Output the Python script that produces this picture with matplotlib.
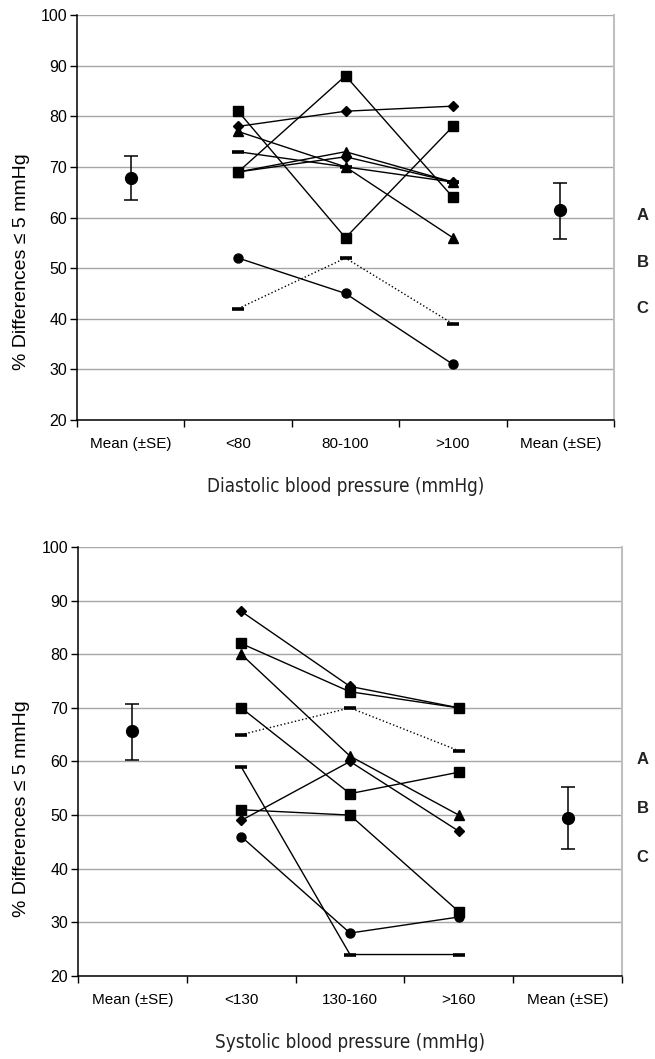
import numpy as np
import matplotlib.pyplot as plt
from matplotlib.transforms import blended_transform_factory

# x categories for the two panels
dia_labels = ['Mean (±SE)', '<80', '80-100', '>100', 'Mean (±SE)']
sys_labels = ['Mean (±SE)', '<130', '130-160', '>160', 'Mean (±SE)']

# diastolic panel: one row per series, values at the three pressure bands
dia_markers = ['_', '^', 'D', 's', 's', 'D', '^', 'o', '_']
dia_styles = ['-', '-', '-', '-', '-', '-', '-', '-', ':']
dia_values = [
    [73, 70, 67],
    [69, 73, 67],
    [69, 72, 67],
    [81, 56, 78],
    [69, 88, 64],
    [78, 81, 82],
    [77, 70, 56],
    [52, 45, 31],
    [42, 52, 39],
]
dia_mean = [67.8, 61.5]
dia_low = [63.4, 55.7]
dia_high = [72.2, 66.8]

# systolic panel
sys_markers = ['D', 's', '^', 's', '_', '_', 's', 'D', 'o']
sys_styles = ['-', '-', '-', '-', ':', '-', '-', '-', '-']
sys_values = [
    [88, 74, 70],
    [82, 73, 70],
    [80, 61, 50],
    [70, 54, 58],
    [65, 70, 62],
    [59, 24, 24],
    [51, 50, 32],
    [49, 60, 47],
    [46, 28, 31],
]
sys_mean = [65.7, 49.4]
sys_low = [60.2, 43.6]
sys_high = [70.8, 55.2]

side_letters = ['A', 'B', 'C']
side_levels = [60.4, 51.2, 42.1]

yticks = np.arange(20, 101, 10)
tick_font = 'Liberation Sans'


def draw_panel(fig, ax, labels, markers, styles, values, mean, low, high, xlabel):
    band_x = [1, 2, 3]
    for m, ls, vals in zip(markers, styles, values):
        if m == '_':
            ax.plot(band_x, vals, color='black', lw=1.0, ls=ls, marker=m,
                    markersize=8, markeredgewidth=2.6, zorder=3)
        else:
            ax.plot(band_x, vals, color='black', lw=1.0, ls=ls, marker=m,
                    markersize=6.5 if m != 'D' else 5.5, zorder=3)

    mean = np.array(mean)
    yerr = [mean - np.array(low), np.array(high) - mean]
    ax.errorbar([0, 4], mean, yerr=yerr, fmt='o', color='black', ms=8.5,
                capsize=5, elinewidth=1.1, capthick=1.1, zorder=4)

    ax.set_xlim(-0.5, 4.5)
    ax.set_ylim(20, 100)
    ax.set_yticks(yticks)
    ax.set_xticks(np.arange(-0.5, 4.6, 1.0))
    ax.set_xticklabels([])
    ax.set_xticks(np.arange(5), minor=True)
    ax.set_xticklabels(labels, minor=True, fontsize=11, family=tick_font)
    ax.tick_params(axis='x', which='minor', length=0, pad=12)
    ax.tick_params(axis='x', which='major', length=5, width=1)
    ax.tick_params(axis='y', length=5, width=1, labelsize=11.5, pad=2)
    for t in ax.get_yticklabels():
        t.set_family(tick_font)

    ax.yaxis.grid(True, color='#a6a6a6', lw=1)
    ax.set_axisbelow(True)
    ax.spines['top'].set_visible(False)
    ax.spines['right'].set_color('#c0c0c0')
    ax.spines['right'].set_linewidth(1.5)
    ax.spines['left'].set_linewidth(1.1)
    ax.spines['bottom'].set_linewidth(1.1)

    ax.set_ylabel('% Differences ≤ 5 mmHg', fontsize=14, family=tick_font,
                  va='center')
    ax.yaxis.set_label_coords(-0.103, 0.39)
    ax.set_xlabel(xlabel, fontsize=13.5, color='#222222', labelpad=19,
                  family='DejaVu Sans', fontstretch='condensed')

    # A / B / C markers to the right of the plot area
    trans = blended_transform_factory(fig.transFigure, ax.transData)
    for letter, lvl in zip(side_letters, side_levels):
        ax.text(0.972, lvl, letter, transform=trans, ha='left', va='center',
                fontsize=12, fontweight='bold', family=tick_font,
                color='#222222', clip_on=False)


fig = plt.figure(figsize=(6.55, 10.59), dpi=100)
ax1 = fig.add_axes([0.1176, 0.6034, 0.8198, 0.3824])
ax2 = fig.add_axes([0.1191, 0.0784, 0.8305, 0.4051])

draw_panel(fig, ax1, dia_labels, dia_markers, dia_styles, dia_values,
           dia_mean, dia_low, dia_high, 'Diastolic blood pressure (mmHg)')
draw_panel(fig, ax2, sys_labels, sys_markers, sys_styles, sys_values,
           sys_mean, sys_low, sys_high, 'Systolic blood pressure (mmHg)')

fig.savefig('out.png', dpi=100)
